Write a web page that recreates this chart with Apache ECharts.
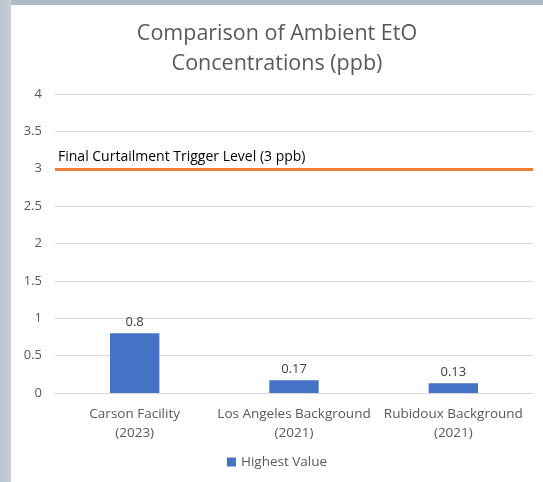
<!DOCTYPE html>
<html>
<head>
<meta charset="utf-8">
<script src="https://cdn.jsdelivr.net/npm/echarts@6/dist/echarts.min.js"></script>
<style>
  html, body { margin: 0; padding: 0; width: 543px; height: 482px; overflow: hidden; }
  body { background: linear-gradient(to right, #b9c3ce, #c7d0d9 11px, #aeb9c5 11px); }
  #chart { position: absolute; left: 11px; top: 5px; width: 532px; height: 477px; background: #fff; }
</style>
</head>
<body>
<div id="chart"></div>
<script>
// categories and values
var categories = ['Carson Facility\n(2023)', 'Los Angeles Background\n(2021)', 'Rubidoux Background\n(2021)']
var highestValue = [0.8, 0.17, 0.13]
var triggerLevel = 3
var triggerLabel = 'Final Curtailment Trigger Level (3 ppb)'
var yTicks = [0, 0.5, 1, 1.5, 2, 2.5, 3, 3.5, 4]

var font = '"Open Sans", sans-serif'
var chart = echarts.init(document.getElementById('chart'))
chart.setOption({
  animation: false,
  textStyle: { fontFamily: font },
  title: {
    text: 'Comparison of Ambient EtO\nConcentrations (ppb)',
    left: 'center',
    top: 9,
    textStyle: { fontSize: 21.5, fontWeight: 'normal', color: '#595959', lineHeight: 30, fontFamily: font }
  },
  legend: {
    bottom: 8,
    left: 'center',
    itemWidth: 9,
    itemHeight: 9,
    itemGap: 4,
    icon: 'rect',
    textStyle: { fontSize: 13.5, color: '#595959', fontFamily: font },
    data: ['Highest Value']
  },
  grid: { left: 44, right: 10, top: 89, bottom: 89 },
  xAxis: {
    type: 'category',
    data: categories,
    axisTick: { show: false },
    axisLine: { lineStyle: { color: '#d9d9d9' } },
    axisLabel: { color: '#595959', fontSize: 13.5, lineHeight: 19, margin: 12, interval: 0, fontFamily: font }
  },
  yAxis: {
    type: 'value',
    min: yTicks[0],
    max: yTicks[yTicks.length - 1],
    interval: 0.5,
    axisLine: { show: false },
    axisTick: { show: false },
    splitLine: { lineStyle: { color: '#d9d9d9' } },
    axisLabel: { color: '#595959', fontSize: 13, margin: 13, fontFamily: font }
  },
  series: [{
    name: 'Highest Value',
    type: 'bar',
    data: highestValue,
    barWidth: '31%',
    itemStyle: { color: '#4472C4' },
    label: { show: true, position: 'top', color: '#404040', fontSize: 13, distance: 4, fontFamily: font },
    markLine: {
      silent: true,
      symbol: 'none',
      data: [{ yAxis: triggerLevel }],
      lineStyle: { color: '#ED7D31', width: 3, type: 'solid' },
      label: {
        show: true,
        position: 'insideStartTop',
        formatter: triggerLabel,
        color: '#000',
        fontSize: 14,
        distance: [3, 5],
        fontFamily: font
      }
    }
  }]
})
</script>
</body>
</html>
